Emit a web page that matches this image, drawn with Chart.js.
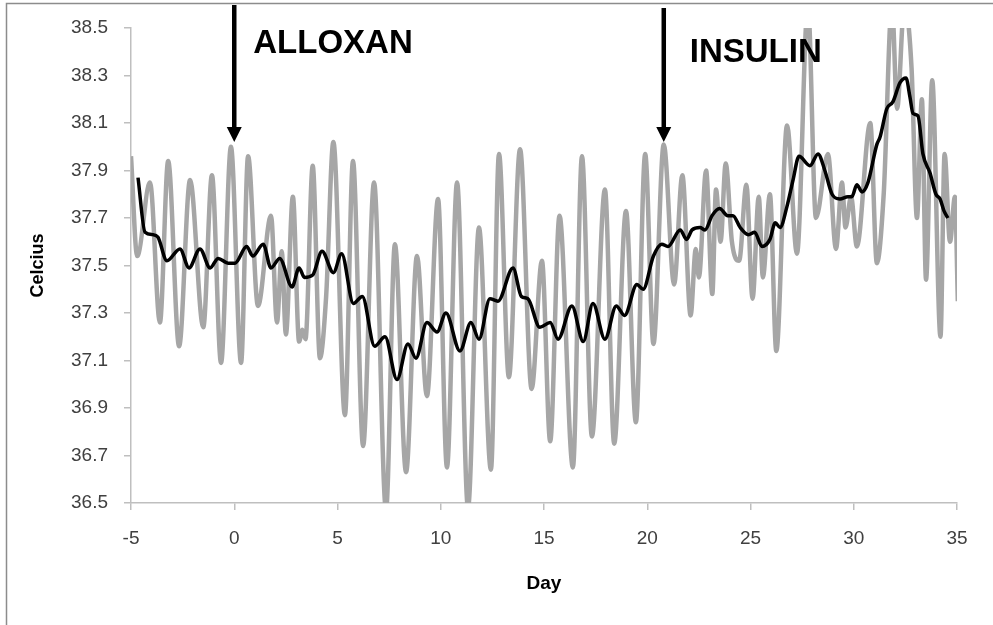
<!DOCTYPE html>
<html>
<head>
<meta charset="utf-8">
<script src="https://cdn.jsdelivr.net/npm/chart.js@4.4.0/dist/chart.umd.min.js"></script>
<style>
    html, body { margin: 0; padding: 0; background: #fff; }
    #wrap { width: 993px; height: 625px; }
</style>
</head>
<body>
<div id="wrap"><canvas id="tempChart" width="993" height="625"></canvas></div>
<script>
// body temperature, read at the peaks and troughs of the daily cycle
var rawDays = [-5.0, -4.7, -4.08, -3.6, -3.2, -2.67, -2.14, -1.5, -1.08, -0.64, -0.16, 0.33, 0.67, 1.15, 1.78, 2.07, 2.3, 2.5,
    2.84, 3.14, 3.3, 3.45, 3.8, 4.15, 4.45, 4.8, 5.36, 5.75, 6.24, 6.77, 7.35, 7.78, 8.32, 8.85, 9.33, 9.87, 10.3, 10.79,
    11.32, 11.85, 12.43, 12.82, 13.3, 13.84, 14.4, 14.9, 15.3, 15.75, 16.4, 16.84, 17.32, 17.95, 18.4, 18.97, 19.45, 19.9,
    20.3, 20.8, 21.3, 21.7, 22.1, 22.35, 22.5, 22.85, 23.15, 23.33, 23.55, 23.8, 24.1, 24.45, 24.8, 25.1, 25.4, 25.6, 25.94,
    26.25, 26.77, 27.25, 27.78, 28.17, 28.75, 29.14, 29.43, 29.6, 29.87, 30.15, 30.8, 31.12, 31.45, 31.85, 32.1, 32.45,
    32.8, 33.06, 33.3, 33.5, 33.8, 34.2, 34.4, 34.66, 34.9, 35.04];
var rawTemps = [37.96, 37.54, 37.85, 37.26, 37.94, 37.16, 37.86, 37.24, 37.88, 37.09, 38.0, 37.09, 37.96, 37.33, 37.71, 37.26, 37.56, 37.21,
    37.79, 37.18, 37.23, 37.19, 37.92, 37.11, 37.37, 38.02, 36.87, 37.94, 36.74, 37.85, 36.47, 37.59, 36.63, 37.54, 36.95, 37.78, 36.65, 37.85,
    36.48, 37.66, 36.64, 37.97, 37.03, 37.99, 36.98, 37.52, 36.76, 37.71, 36.65, 37.96, 36.78, 37.82, 36.75, 37.73, 36.84, 37.97,
    37.17, 38.01, 37.42, 37.88, 37.29, 37.57, 37.45, 37.9, 37.38, 37.82, 37.6, 37.93, 37.6, 37.52, 37.84, 37.36, 37.79, 37.45, 37.8,
    37.14, 38.09, 37.55, 38.6, 37.7, 37.97, 37.57, 37.85, 37.66, 37.79, 37.58, 38.1, 37.51, 37.8, 38.6, 38.16, 38.6,
    38.33, 37.7, 38.2, 37.44, 38.28, 37.2, 37.97, 37.6, 37.79, 37.35];

// moving average
var avgDays = [-4.66, -4.32, -3.95, -3.7, -3.26, -2.63, -2.19, -1.66, -1.17, -0.78, -0.3, 0.04, 0.6, 0.9, 1.4, 1.78, 2.2, 2.8,
    3.14, 3.4, 3.8, 4.25, 4.8, 5.2, 5.77, 6.2, 6.8, 7.3, 7.88, 8.41, 8.8, 9.33, 9.82, 10.25, 10.93, 11.46, 11.85, 12.38, 12.77,
    13.5, 13.9, 14.22, 14.8, 15.3, 15.68, 16.35, 16.9, 17.37, 17.95, 18.5, 18.9, 19.5, 19.8, 20.3, 20.7, 21.0, 21.6, 21.9, 22.17,
    22.55, 22.8, 23.14, 23.5, 23.9, 24.15, 24.5, 24.9, 25.2, 25.56, 25.94, 26.2, 26.43, 26.77, 27.06, 27.35, 27.88, 28.27, 28.6,
    28.95, 29.33, 29.72, 29.91, 30.15, 30.4, 30.69, 31.12, 31.27, 31.6, 31.9, 32.24, 32.53, 32.72, 32.87, 33.11, 33.35, 33.69,
    33.98, 34.18, 34.37, 34.56];
var avgTemps = [37.87, 37.64, 37.63, 37.62, 37.52, 37.57, 37.49, 37.57, 37.49, 37.53, 37.51, 37.51, 37.58, 37.54, 37.59, 37.49, 37.53, 37.41,
    37.49, 37.45, 37.46, 37.56, 37.47, 37.55, 37.34, 37.37, 37.16, 37.2, 37.02, 37.17, 37.11, 37.26, 37.22, 37.3, 37.14, 37.26, 37.19, 37.36, 37.35,
    37.49, 37.37, 37.36, 37.24, 37.26, 37.19, 37.33, 37.18, 37.34, 37.19, 37.33, 37.29, 37.42, 37.4, 37.54, 37.59, 37.58, 37.65, 37.61, 37.65,
    37.66, 37.65, 37.71, 37.74, 37.71, 37.71, 37.66, 37.63, 37.64, 37.58, 37.61, 37.68, 37.66, 37.75, 37.86, 37.96, 37.92, 37.97, 37.9,
    37.8, 37.78, 37.79, 37.79, 37.84, 37.81, 37.85, 38.01, 38.04, 38.16, 38.19, 38.27, 38.29, 38.21, 38.14, 38.13, 37.97, 37.89,
    37.8, 37.78, 37.73, 37.7];

var xTicks = [-5, 0, 5, 10, 15, 20, 25, 30, 35];
var yTicks = [36.5, 36.7, 36.9, 37.1, 37.3, 37.5, 37.7, 37.9, 38.1, 38.3, 38.5];

var eventDays = [0, 20.8];
var eventTemps = [38.02, 38.02];
var eventLabels = ['ALLOXAN', 'INSULIN'];

function toPoints(xs, ys) {
    return xs.map(function (x, i) { return { x: x, y: ys[i] }; });
}

var FONT = '"Liberation Sans", Arial, sans-serif';

// arrows, event labels and the outer frame
var extras = {
    id: 'extras',
    afterDraw: function (chart) {
        var ctx = chart.ctx;
        var xs = chart.scales.x, ys = chart.scales.y;
        var labelPos = [{ dx: 19, top: 5, base: 53 }, { dx: 26, top: 8, base: 62 }];
        ctx.save();
        ctx.strokeStyle = '#8c8c8c';
        ctx.lineWidth = 1.5;
        ctx.beginPath();
        ctx.moveTo(6.5, 625);
        ctx.lineTo(6.5, 3.5);
        ctx.lineTo(993, 3.5);
        ctx.stroke();

        ctx.fillStyle = '#000';
        ctx.font = 'bold 33px ' + FONT;
        ctx.textBaseline = 'alphabetic';
        ctx.textAlign = 'left';
        eventDays.forEach(function (d, i) {
            var px = xs.getPixelForValue(d);
            var tip = ys.getPixelForValue(eventTemps[i]);
            var p = labelPos[i];
            ctx.fillRect(px - 2.25, p.top, 4.5, tip - 14 - p.top);
            ctx.beginPath();
            ctx.moveTo(px - 7.5, tip - 15);
            ctx.lineTo(px + 7.5, tip - 15);
            ctx.lineTo(px, tip);
            ctx.closePath();
            ctx.fill();
            ctx.fillText(eventLabels[i], px + p.dx, p.base);
        });
        ctx.restore();
    }
};

var ctx = document.getElementById('tempChart').getContext('2d');
var chart = new Chart(ctx, {
    type: 'line',
    data: {
        datasets: [{
            label: 'Average',
            data: toPoints(avgDays, avgTemps),
            borderColor: '#000000',
            borderWidth: 3.5,
            pointRadius: 0,
            cubicInterpolationMode: 'monotone'
        }, {
            label: 'Temperature',
            data: toPoints(rawDays, rawTemps),
            borderColor: '#a6a6a6',
            borderWidth: 4.5,
            pointRadius: 0,
            cubicInterpolationMode: 'monotone'
        }]
    },
    options: {
        responsive: false,
        animation: false,
        devicePixelRatio: 1,
        layout: { padding: { top: 28, right: 36, left: 0, bottom: 0 } },
        plugins: {
            legend: { display: false },
            tooltip: { enabled: false }
        },
        scales: {
            x: {
                type: 'linear',
                min: -5,
                max: 35,
                afterBuildTicks: function (s) { s.ticks = xTicks.map(function (v) { return { value: v }; }); },
                afterFit: function (s) { s.height = 122; },
                grid: { drawOnChartArea: false, color: '#bfbfbf', lineWidth: 1.5, tickLength: 7 },
                border: { color: '#bfbfbf', width: 1.5 },
                ticks: { color: '#404040', font: { family: FONT, size: 19 }, padding: 17, maxRotation: 0, autoSkip: false },
                title: { display: true, text: 'Day', color: '#000', font: { family: FONT, size: 19, weight: 'bold' }, padding: { top: 0, bottom: 30 } }
            },
            y: {
                min: 36.5,
                max: 38.5,
                afterBuildTicks: function (s) { s.ticks = yTicks.map(function (v) { return { value: v }; }); },
                afterFit: function (s) { s.width = 131; },
                grid: { drawOnChartArea: false, color: '#bfbfbf', lineWidth: 1.5, tickLength: 7 },
                border: { color: '#bfbfbf', width: 1.5 },
                ticks: {
                    color: '#404040',
                    font: { family: FONT, size: 19 },
                    padding: 16,
                    callback: function (v) { return v.toFixed(1); }
                },
                title: { display: true, text: 'Celcius', color: '#000', font: { family: FONT, size: 18, weight: 'bold' }, padding: { top: 27, bottom: 0 } }
            }
        }
    },
    plugins: [extras]
});
</script>
</body>
</html>
